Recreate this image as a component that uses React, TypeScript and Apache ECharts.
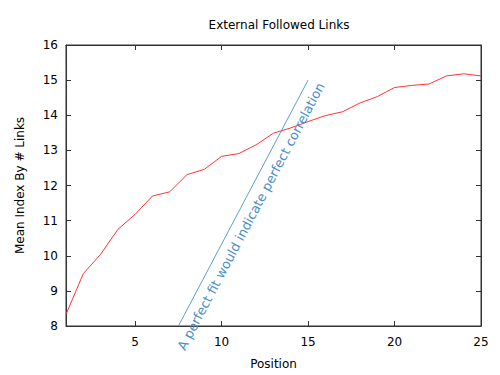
import React, { useEffect, useRef } from "react";
import * as echarts from "echarts";

const positions = [1, 2, 3, 4, 5, 6, 7, 8, 9, 10, 11, 12, 13, 14, 15, 16, 17, 18, 19, 20, 21, 22, 23, 24, 25];
const meanIndex = [8.33, 9.49, 10.04, 10.75, 11.18, 11.7, 11.82, 12.31, 12.46, 12.83, 12.91, 13.16, 13.49, 13.64, 13.82, 13.99, 14.1, 14.35, 14.53, 14.79, 14.85, 14.89, 15.12, 15.18, 15.12];
const perfectFit = [[7.5, 8], [15, 15]];
const xTicks = [5, 10, 15, 20, 25];
const annotationText = "A perfect fit would indicate perfect correlation";
const annotationAnchor = [11.7, 11.12];

const FONT = "DejaVu Sans";

export default function App() {
  const ref = useRef<HTMLDivElement>(null);
  useEffect(() => {
    if (!ref.current) return;
    const chart = echarts.init(ref.current, null, { renderer: "svg" });
    const axisColor = "#333";
    const option: any = {
      animation: false,
      backgroundColor: "#fff",
      textStyle: { fontFamily: FONT },
      title: {
        text: "External Followed Links",
        left: 274,
        top: 14,
        textAlign: "center",
        textStyle: { fontFamily: FONT, fontSize: 12, fontWeight: "normal", color: "#000" },
      },
      grid: { left: 66, right: 19, top: 45, bottom: 48, show: true, borderColor: axisColor, borderWidth: 1 },
      xAxis: [
        {
          type: "value",
          min: 1,
          max: 25,
          name: "Position",
          nameLocation: "middle",
          nameGap: 32,
          nameTextStyle: { fontFamily: FONT, fontSize: 12, color: "#000" },
          axisLine: { show: true, lineStyle: { color: axisColor } },
          axisTick: { show: true, inside: true, length: 5, customValues: xTicks, lineStyle: { color: axisColor } },
          axisLabel: { customValues: xTicks, fontFamily: FONT, fontSize: 12, color: "#000", margin: 10 },
          splitLine: { show: false },
        },
        {
          type: "value",
          min: 1,
          max: 25,
          position: "top",
          axisLine: { show: true, lineStyle: { color: axisColor } },
          axisTick: { show: true, inside: true, length: 5, customValues: xTicks, lineStyle: { color: axisColor } },
          axisLabel: { show: false, customValues: xTicks },
          splitLine: { show: false },
        },
      ],
      yAxis: [
        {
          type: "value",
          min: 8,
          max: 16,
          interval: 1,
          name: "Mean Index By # Links",
          nameLocation: "middle",
          nameGap: 40,
          nameTextStyle: { fontFamily: FONT, fontSize: 12, color: "#000" },
          axisLine: { show: true, lineStyle: { color: axisColor } },
          axisTick: { show: true, inside: true, length: 5, lineStyle: { color: axisColor } },
          axisLabel: { fontFamily: FONT, fontSize: 12, color: "#000", margin: 8 },
          splitLine: { show: false },
        },
        {
          type: "value",
          min: 8,
          max: 16,
          interval: 1,
          position: "right",
          axisLine: { show: true, lineStyle: { color: axisColor } },
          axisTick: { show: true, inside: true, length: 5, lineStyle: { color: axisColor } },
          axisLabel: { show: false },
          splitLine: { show: false },
        },
      ],
      series: [
        {
          type: "line",
          data: positions.map((p, i) => [p, meanIndex[i]]),
          showSymbol: false,
          symbol: "none",
          lineStyle: { color: "#ff3535", width: 1 },
          z: 3,
        },
        {
          type: "line",
          data: perfectFit,
          showSymbol: false,
          symbol: "none",
          lineStyle: { color: "#5a9fd4", width: 1 },
          z: 2,
        },
      ],
    };
    chart.setOption(option);
    const p0 = chart.convertToPixel({ gridIndex: 0 }, perfectFit[0]) as number[];
    const p1 = chart.convertToPixel({ gridIndex: 0 }, perfectFit[1]) as number[];
    const angle = Math.atan2(p0[1] - p1[1], p1[0] - p0[0]);
    const anchor = chart.convertToPixel({ gridIndex: 0 }, annotationAnchor) as number[];
    chart.setOption({
      graphic: [
        {
          type: "text",
          x: anchor[0],
          y: anchor[1],
          rotation: angle,
          z: 10,
          style: {
            text: annotationText,
            fontFamily: FONT,
            fontSize: 13,
            fill: "#4a90c8",
            align: "center",
            verticalAlign: "middle",
          },
        },
      ],
    });
    return () => chart.dispose();
  }, []);
  return <div ref={ref} style={{ width: 500, height: 375, position: "absolute", left: 0, top: 0 }} />;
}
